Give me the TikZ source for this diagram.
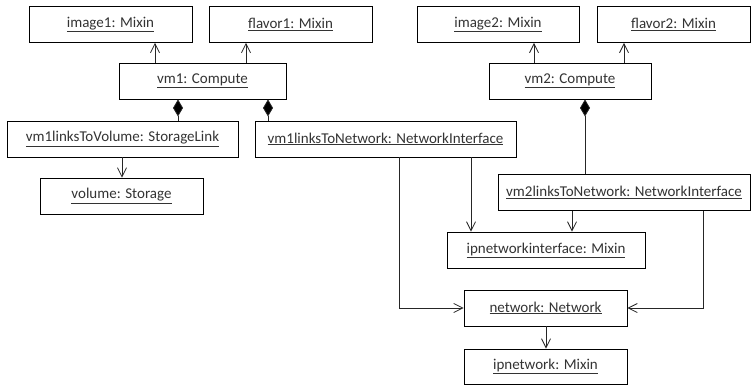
\documentclass[tikz,border=0pt]{standalone}
\usepackage{fontspec}
\setmainfont{Carlito}
\usetikzlibrary{arrows.meta}
\begin{document}
\begin{tikzpicture}[x=1pt,y=-1pt,
  obj/.style={draw=black,line width=0.9pt,rectangle,minimum height=36pt,inner sep=0pt,
    font=\fontsize{15}{18}\selectfont,text=black!80},
  nav/.style={draw=black!85,line width=0.8pt,-{Straight Barb[length=9pt,width=9pt,line width=0.8pt]}},
  comp/.style={draw=black!85,line width=0.8pt,{Diamond[length=17pt,width=10pt,fill=black]}-}]
\useasboundingbox (0,0) rectangle (751,385);
\node[obj,minimum width=163pt] (image1) at (110.5,24.5) {\underline{image1: Mixin}};
\node[obj,minimum width=163pt] (flavor1) at (290.5,24.5) {\underline{flavor1: Mixin}};
\node[obj,minimum width=167pt] (vm1) at (202.5,81) {\underline{vm1: Compute}};
\node[obj,minimum width=231pt] (vm1links) at (122.5,139) {\underline{vm1linksToVolume: StorageLink}};
\node[obj,minimum width=261pt] (vm1net) at (385.5,139) {\underline{vm1linksToNetwork: NetworkInterface}};
\node[obj,minimum width=163pt] (volume) at (121.5,196) {\underline{volume: Storage}};
\node[obj,minimum width=162pt] (image2) at (498,24.5) {\underline{image2: Mixin}};
\node[obj,minimum width=153pt] (flavor2) at (673.5,24.5) {\underline{flavor2: Mixin}};
\node[obj,minimum width=162pt] (vm2) at (570,81) {\underline{vm2: Compute}};
\node[obj,minimum width=252pt] (vm2links) at (624,192.5) {\underline{vm2linksToNetwork: NetworkInterface}};
\node[obj,minimum width=198pt] (ipnetint) at (546,250) {\underline{ipnetworkinterface: Mixin}};
\node[obj,minimum width=163pt] (network) at (545.5,308) {\underline{network: Network}};
\node[obj,minimum width=163pt,minimum height=35pt] (ipnetwork) at (545.5,366.5) {\underline{ipnetwork: Mixin}};

\draw[nav] (vm1.north -| 155,0) -- (image1.south -| 155,0);
\draw[nav] (vm1.north -| 246,0) -- (flavor1.south -| 246,0);
\draw[comp] (vm1.south -| 178,0) -- (vm1links.north -| 178,0);
\draw[comp] (vm1.south -| 268,0) -- (vm1net.north -| 268,0);
\draw[nav] (vm1links.south -| 122,0) -- (volume.north -| 122,0);
\draw[nav] (vm2.north -| 534,0) -- (image2.south -| 534,0);
\draw[nav] (vm2.north -| 624,0) -- (flavor2.south -| 624,0);
\draw[comp] (vm2.south -| 585,0) -- (vm2links.north -| 585,0);
\draw[nav] (vm1net.south -| 471,0) -- (ipnetint.north -| 471,0);
\draw[nav] (vm1net.south -| 399,0) |- (network.west);
\draw[nav] (vm2links.south -| 572,0) -- (ipnetint.north -| 572,0);
\draw[nav] (vm2links.south -| 703,0) |- (network.east);
\draw[nav] (network.south -| 546,0) -- (ipnetwork.north -| 546,0);
\end{tikzpicture}
\end{document}
